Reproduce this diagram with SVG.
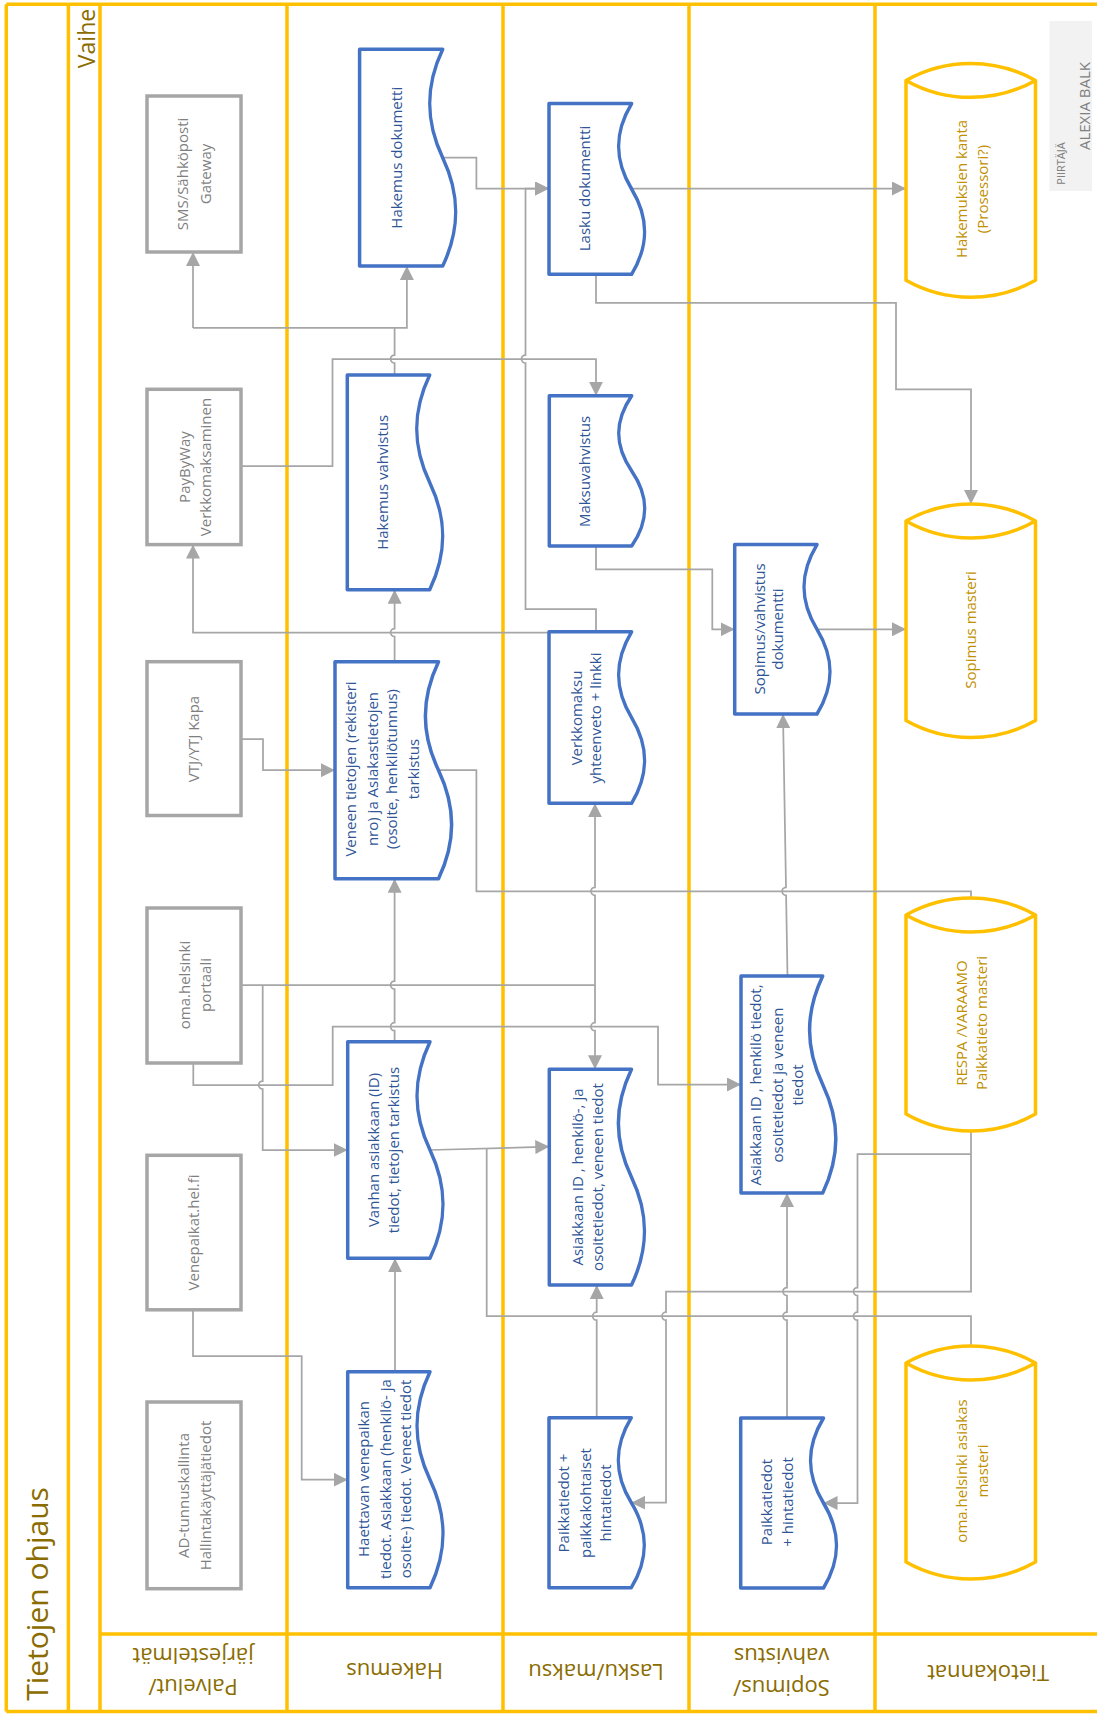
<svg xmlns="http://www.w3.org/2000/svg" width="1097" height="1715" viewBox="0 0 1097 1715">
<style>
.lane{stroke:#FFC000;stroke-width:3.5;fill:none}
.box{fill:#fff;stroke:#A6A6A6;stroke-width:3.5}
.doc{fill:#fff;stroke:#4472C4;stroke-width:3.5;stroke-linejoin:round}
.cyl{fill:#fff;stroke:#FFC000;stroke-width:3.5;stroke-linejoin:round}
.con{fill:none;stroke:#A6A6A6;stroke-width:1.75}
.arr{marker-end:url(#ah)}
text{font-family:"Open Sans","Noto Sans",sans-serif;dominant-baseline:central;text-anchor:middle}
.tb{font-size:15px;fill:#7F7F7F}
.td{font-size:15px;fill:#2F5597}
.tc{font-size:15px;fill:#BF9000}
.tl{font-size:22px;fill:#8B6C00}
</style>
<defs>
<marker id="ah" markerUnits="userSpaceOnUse" markerWidth="14" markerHeight="14" viewBox="0 0 14 14" refX="14" refY="7" orient="auto"><path d="M0,0 L14,7 L0,14 Z" fill="#A6A6A6"/></marker>
</defs>
<rect x="0" y="0" width="1097" height="1715" fill="#fff"/>

<g id="lanes">
<path class="lane" d="M6.3 4.3 H1097 M6.3 1711.5 H1097 M6.3 4.3 V1711.5 M68.4 4.3 V1711.5 M100 4.3 V1711.5 M287 4.3 V1711.5 M503 4.3 V1711.5 M689 4.3 V1711.5 M875 4.3 V1711.5 M100 1634 H1097"/>
<text transform="translate(36.8,1594) rotate(-90)" style="font-size:30px;fill:#8B6C00">Tietojen ohjaus</text>
<text transform="translate(86,38.5) rotate(-90)" style="font-size:23px;fill:#8B6C00">Vaihe</text>
<text class="tl" transform="translate(193,1657) rotate(180)">järjestelmät</text>
<text class="tl" transform="translate(193,1688) rotate(180)">Palvelut/</text>
<text class="tl" transform="translate(394.6,1672) rotate(180)">Hakemus</text>
<text class="tl" transform="translate(596,1673) rotate(180)">Lasku/maksu</text>
<text class="tl" transform="translate(781.5,1657) rotate(180)">vahvistus</text>
<text class="tl" transform="translate(781.5,1689) rotate(180)">Sopimus/</text>
<text class="tl" transform="translate(988,1674) rotate(180)">Tietokannat</text>
</g>

<g id="author">
<rect x="1049.5" y="21" width="42.5" height="170" fill="#F2F2F2"/>
<text transform="translate(1060,163.5) rotate(-90)" style="font-size:11px;fill:#7F7F7F">PIIRTÄJÄ</text>
<text transform="translate(1084,106) rotate(-90)" style="font-size:15px;fill:#7F7F7F">ALEXIA BALK</text>
</g>

<g id="connectors">
<path class="con arr" d="M442.7 157.7 H476.4 V188.5 H549"/>
<path class="con arr" d="M631.6 188.5 H906"/>
<path class="con arr" d="M596 274.3 V302.9 H896 V389.3 H971 V504"/>
<path class="con" d="M394.6 375 V363 A4 4 0 0 1 394.6 355 V327.9"/>
<path class="con arr" d="M193 327.9 H406.9 V266"/>
<path class="con arr" d="M193 327.9 V252"/>
<path class="con arr" d="M241.3 466 H332.5 V359 H596 V395.7"/>
<path class="con arr" d="M596 546 V569.3 H712.3 V629.3 H734.7"/>
<path class="con arr" d="M596 631.8 V609 H525.5 V363 A4 4 0 0 1 525.5 355 V188.5 H549"/>
<path class="con arr" d="M549 632.6 H193 V544.6"/>
<path class="con arr" d="M394.6 661.7 V636.6 A4 4 0 0 1 394.6 628.6 V589.7"/>
<path class="con arr" d="M817 629.3 H906"/>
<path class="con arr" d="M241.3 739 H263 V770.2 H335"/>
<path class="con arr" d="M438.5 770.2 H476.4 V891.3 H971 V913"/>
<path class="con" d="M241.3 985 H595"/>
<path class="con arr" d="M595 985 V895.3 A4 4 0 0 1 595 887.3 V803.3"/>
<path class="con arr" d="M595 985 V1022.7 A4 4 0 0 0 595 1030.7 V1069.3"/>
<path class="con arr" d="M262.7 985 V1081 A4 4 0 0 0 262.7 1089 V1150 H347.7"/>
<path class="con arr" d="M394.6 1041.7 V1030.7 A4 4 0 0 1 394.6 1022.7 V989 A4 4 0 0 1 394.6 981 V878.7"/>
<path class="con arr" d="M193.3 1063 V1085 H332.7 V1026.7 H658 V1084.5 H741"/>
<path class="con arr" d="M787.5 976 L786.1 895.3 A4 4 0 0 1 786 887.3 L783 714"/>
<path class="con arr" d="M430 1150 L549.3 1146.7"/>
<path class="con arr" d="M486.7 1149 V1316.2 H971 V1359"/>
<path class="con arr" d="M596.7 1417.7 V1320.2 A4 4 0 0 1 596.7 1312.2 V1285"/>
<path class="con arr" d="M971 1131 V1291.5 H666 V1312.2 A4 4 0 0 0 666 1320.2 V1502.7 H631.3"/>
<path class="con arr" d="M787 1418 V1320.2 A4 4 0 0 1 787 1312.2 V1295.5 A4 4 0 0 1 787 1287.5 V1193"/>
<path class="con arr" d="M971 1154 H857.5 V1287.5 A4 4 0 0 0 857.5 1295.5 V1312.2 A4 4 0 0 0 857.5 1320.2 V1503 H823.5"/>
<path class="con arr" d="M193 1309.8 V1356 H301.7 V1479.7 H347.7"/>
<path class="con arr" d="M395 1371.7 V1258.3"/>
</g>

<g id="sms"><rect class="box" x="147" y="96" width="94" height="156"/>
<text class="tb" transform="translate(182.4,174) rotate(-90)">SMS/Sähköposti</text>
<text class="tb" transform="translate(205.2,174) rotate(-90)">Gateway</text></g>

<g id="paybyway"><rect class="box" x="147" y="389.3" width="94" height="155.3"/>
<text class="tb" transform="translate(184,467) rotate(-90)">PayByWay</text>
<text class="tb" transform="translate(204.5,467) rotate(-90)">Verkkomaksaminen</text></g>

<g id="vtj"><rect class="box" x="147" y="661.7" width="94" height="153.8"/>
<text class="tb" transform="translate(193,739) rotate(-90)">VTJ/YTJ Kapa</text></g>

<g id="omahelsinki"><rect class="box" x="147" y="908" width="94" height="155"/>
<text class="tb" transform="translate(183.5,985) rotate(-90)">oma.helsinki</text>
<text class="tb" transform="translate(205,985) rotate(-90)">portaali</text></g>

<g id="venepaikat"><rect class="box" x="147" y="1155.3" width="94" height="154.5"/>
<text class="tb" transform="translate(193,1232.5) rotate(-90)">Venepaikat.hel.fi</text></g>

<g id="ad"><rect class="box" x="147" y="1402" width="94" height="186.7"/>
<text class="tb" transform="translate(183,1495.5) rotate(-90)">AD-tunnuskallinta</text>
<text class="tb" transform="translate(204.5,1495.5) rotate(-90)">Hallintakäyttäjätiedot</text></g>

<g id="hakemusdok"><path class="doc" d="M359.6 49.3 H442.7 C425.2 86.1 425.2 120.8 442.7 157.7 C460.2 194.5 460.2 229.2 442.7 266 H359.6 Z"/>
<text class="td" transform="translate(396.3,157.7) rotate(-90)">Hakemus dokumetti</text></g>

<g id="hakemusvahv"><path class="doc" d="M347.3 375 H429.7 C412.2 411.5 412.2 445.9 429.7 482.4 C447.2 518.8 447.2 553.2 429.7 589.7 H347.3 Z"/>
<text class="td" transform="translate(382.3,482.3) rotate(-90)">Hakemus vahvistus</text></g>

<g id="veneen"><path class="doc" d="M335 661.7 H438.5 C421 698.6 421 733.3 438.5 770.2 C456 807.1 456 841.8 438.5 878.7 H335 Z"/>
<text class="td" transform="translate(349.7,769) rotate(-90)">Veneen tietojen (rekisteri</text>
<text class="td" transform="translate(371.8,769) rotate(-90)">nro) ja Asiakastietojen</text>
<text class="td" transform="translate(391.1,769) rotate(-90)">(osoite, henkilötunnus)</text>
<text class="td" transform="translate(413.2,769) rotate(-90)">tarkistus</text></g>

<g id="vanhan"><path class="doc" d="M347.7 1041.7 H430 C412.5 1078.5 412.5 1113.2 430 1150 C447.5 1186.8 447.5 1221.5 430 1258.3 H347.7 Z"/>
<text class="td" transform="translate(373.3,1150) rotate(-90)">Vanhan asiakkaan (ID)</text>
<text class="td" transform="translate(393.3,1150) rotate(-90)">tiedot, tietojen tarkistus</text></g>

<g id="haettavan"><path class="doc" d="M347.7 1371.7 H430 C412.5 1408.4 412.5 1443 430 1479.7 C447.5 1516.4 447.5 1551 430 1587.7 H347.7 Z"/>
<text class="td" transform="translate(363.3,1479) rotate(-90)">Haettavan venepaikan</text>
<text class="td" transform="translate(385,1479) rotate(-90)">tiedot. Asiakkaan (henkilö- ja</text>
<text class="td" transform="translate(405,1479) rotate(-90)">osoite-) tiedot. Veneet tiedot</text></g>

<g id="laskudok"><path class="doc" d="M549 103.6 H631.6 C614.1 132.6 614.1 159.9 631.6 189 C649.1 218 649.1 245.3 631.6 274.3 H549 Z"/>
<text class="td" transform="translate(584.4,188.5) rotate(-90)">Lasku dokumentti</text></g>

<g id="maksuvahv"><path class="doc" d="M549.3 395.7 H631.7 C614.2 421.3 614.2 445.3 631.7 470.9 C649.2 496.4 649.2 520.4 631.7 546 H549.3 Z"/>
<text class="td" transform="translate(584.3,471.5) rotate(-90)">Maksuvahvistus</text></g>

<g id="verkkomaksu"><path class="doc" d="M549 631.8 H631.6 C614.1 661 614.1 688.4 631.6 717.6 C649.1 746.7 649.1 774.1 631.6 803.3 H549 Z"/>
<text class="td" transform="translate(575.5,718) rotate(-90)">Verkkomaksu</text>
<text class="td" transform="translate(595,718) rotate(-90)">yhteenveto + linkki</text></g>

<g id="asiakaslasku"><path class="doc" d="M549.3 1069.3 H631.5 C614 1106 614 1140.5 631.5 1177.2 C649 1213.8 649 1248.3 631.5 1285 H549.3 Z"/>
<text class="td" transform="translate(576.7,1177) rotate(-90)">Asiakkaan ID , henkilö-, ja</text>
<text class="td" transform="translate(596.7,1177) rotate(-90)">osoitetiedot, veneen tiedot</text></g>

<g id="paikkalasku"><path class="doc" d="M549 1417.7 H631.3 C613.8 1446.6 613.8 1473.8 631.3 1502.7 C648.8 1531.6 648.8 1558.8 631.3 1587.7 H549 Z"/>
<text class="td" transform="translate(563.3,1503) rotate(-90)">Paikkatiedot +</text>
<text class="td" transform="translate(585,1503) rotate(-90)">paikkakohtaiset</text>
<text class="td" transform="translate(605,1503) rotate(-90)">hintatiedot</text></g>

<g id="sopimusdok"><path class="doc" d="M734.7 544.6 H817 C799.5 573.4 799.5 600.5 817 629.3 C834.5 658.1 834.5 685.2 817 714 H734.7 Z"/>
<text class="td" transform="translate(758.5,629) rotate(-90)">Sopimus/vahvistus</text>
<text class="td" transform="translate(777.3,629) rotate(-90)">dokumentti</text></g>

<g id="asiakassopimus"><path class="doc" d="M741 976 H822.7 C805.2 1012.9 805.2 1047.6 822.7 1084.5 C840.2 1121.4 840.2 1156.1 822.7 1193 H741 Z"/>
<text class="td" transform="translate(755,1085) rotate(-90)">Asiakkaan ID , henkilö tiedot,</text>
<text class="td" transform="translate(776.7,1085) rotate(-90)">osoitetiedot  ja veneen</text>
<text class="td" transform="translate(796.7,1085) rotate(-90)">tiedot</text></g>

<g id="paikkasopimus"><path class="doc" d="M740.7 1418 H823.5 C806 1446.9 806 1474.1 823.5 1503 C841 1531.9 841 1559.1 823.5 1588 H740.7 Z"/>
<text class="td" transform="translate(765.6,1502) rotate(-90)">Paikkatiedot</text>
<text class="td" transform="translate(787,1502) rotate(-90)">+ hintatiedot</text></g>

<g id="hakemuksienkanta"><path class="cyl" d="M906 80.4 A132 132 0 0 1 1035.5 80.4 V280.3 A132 132 0 0 1 906 280.3 Z M906 80.4 A132 132 0 0 0 1035.5 80.4"/>
<text class="tc" transform="translate(961,189) rotate(-90)">Hakemuksien kanta</text>
<text class="tc" transform="translate(982,189) rotate(-90)">(Prosessori?)</text></g>

<g id="sopimusmasteri"><path class="cyl" d="M906 521 A132 132 0 0 1 1035.5 521 V720.5 A132 132 0 0 1 906 720.5 Z M906 521 A132 132 0 0 0 1035.5 521"/>
<text class="tc" transform="translate(969.8,630) rotate(-90)">Sopimus masteri</text></g>

<g id="respa"><path class="cyl" d="M906 915 A132 132 0 0 1 1035.5 915 V1114 A132 132 0 0 1 906 1114 Z M906 915 A132 132 0 0 0 1035.5 915"/>
<text class="tc" transform="translate(961,1023) rotate(-90)">RESPA /VARAAMO</text>
<text class="tc" transform="translate(980.5,1023) rotate(-90)">Paikkatieto masteri</text></g>

<g id="omaasiakas"><path class="cyl" d="M906 1363 A132 132 0 0 1 1035.5 1363 V1562 A132 132 0 0 1 906 1562 Z M906 1363 A132 132 0 0 0 1035.5 1363"/>
<text class="tc" transform="translate(961.4,1471) rotate(-90)">oma.helsinki asiakas</text>
<text class="tc" transform="translate(982.4,1471) rotate(-90)">masteri</text></g>
</svg>
